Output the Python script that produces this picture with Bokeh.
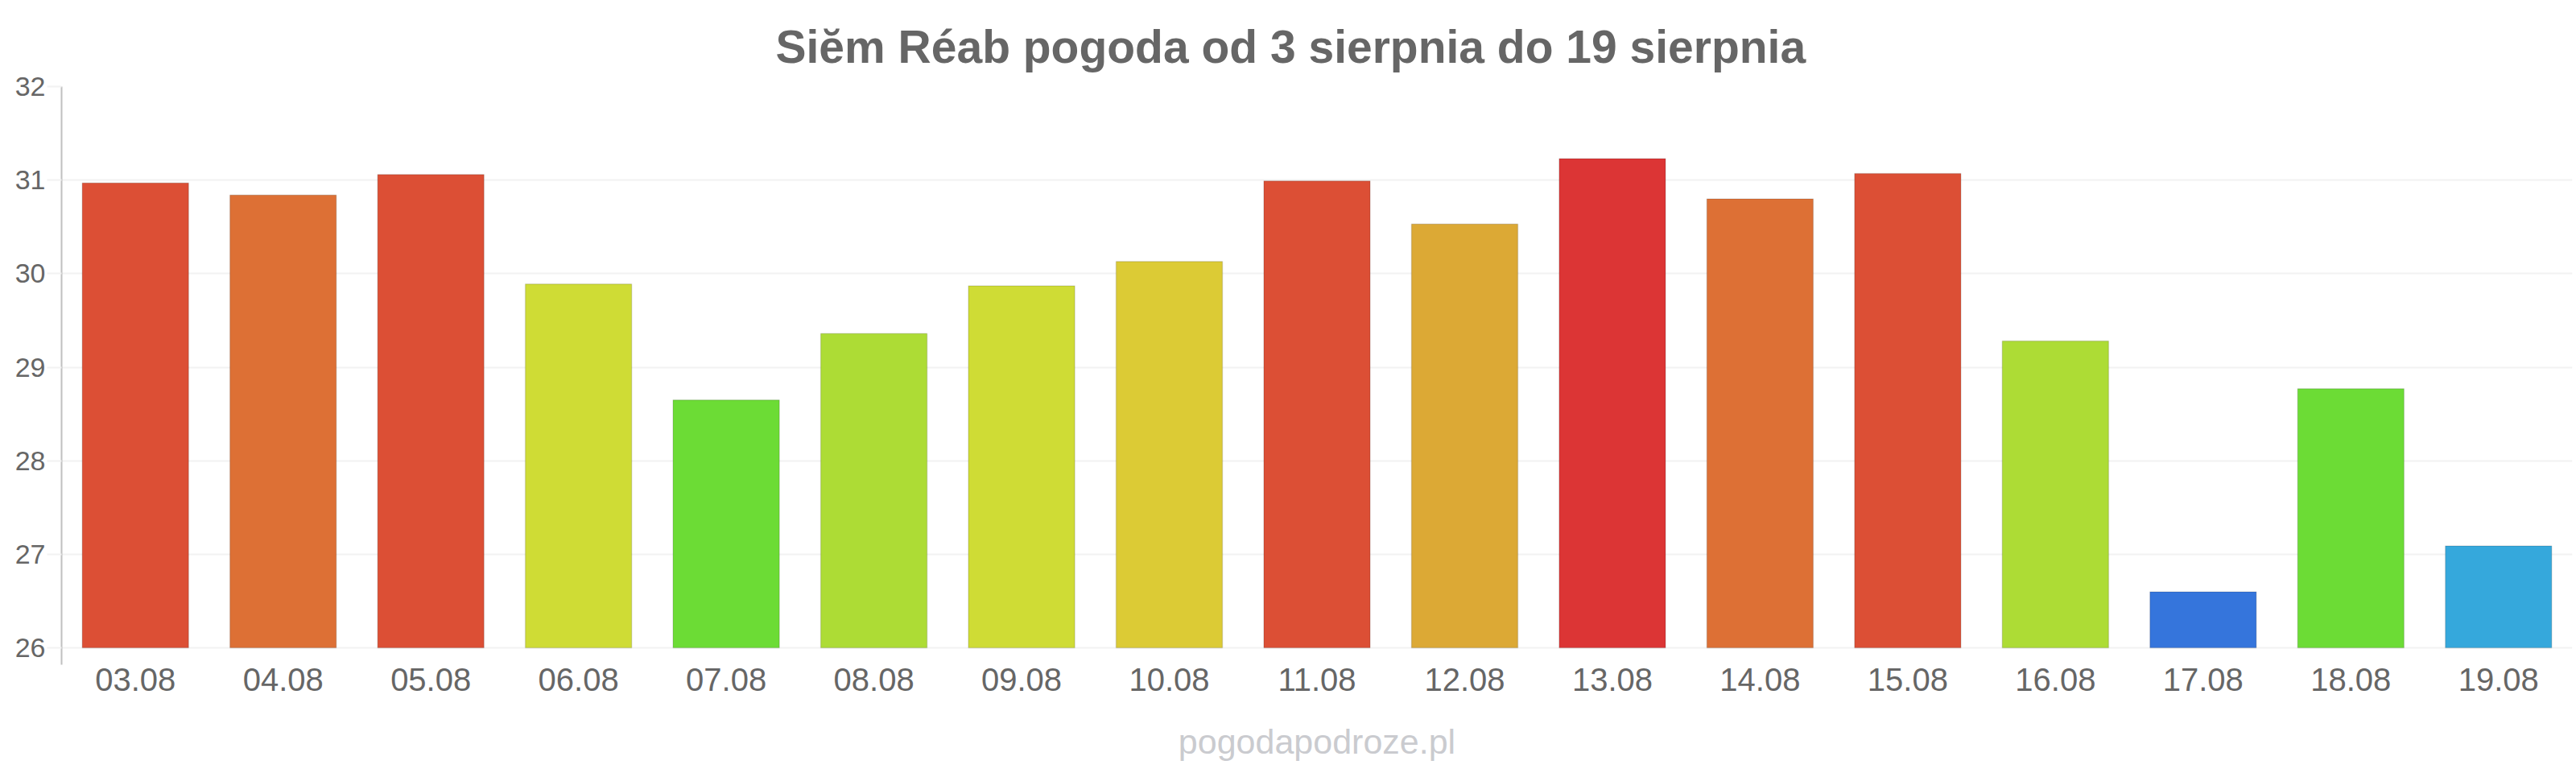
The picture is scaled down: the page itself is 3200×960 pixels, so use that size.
from bokeh.plotting import figure
from bokeh.models import ColumnDataSource, Range1d, SingleIntervalTicker
from bokeh.embed import file_html
from bokeh.resources import INLINE

# ---- data ----
dates = ["03.08", "04.08", "05.08", "06.08", "07.08", "08.08", "09.08", "10.08", "11.08",
         "12.08", "13.08", "14.08", "15.08", "16.08", "17.08", "18.08", "19.08"]
temps = [30.97, 30.84, 31.06, 29.89, 28.65, 29.36, 29.87, 30.13, 30.99,
         30.53, 31.23, 30.80, 31.07, 29.28, 26.60, 28.77, 27.09]
bar_colors = ["#dc4f35", "#dd7035", "#dc4f35", "#cfdc35", "#6cdc35", "#addc35", "#cfdc35",
              "#dccb35", "#dc4f35", "#dca935", "#dc3535", "#dd7035", "#dc4f35", "#addc35",
              "#3575dc", "#6cdc35", "#35a8dc"]
title_text = "Siĕm Réab pogoda od 3 sierpnia do 19 sierpnia"
watermark = "pogodapodroze.pl"
y_base = 26

FONT = "Liberation Sans"
TXT = "#666666"

W, H = 3200, 960
p = figure(width=W, height=H, x_range=dates, y_range=Range1d(25.82, 32),
           output_backend="svg", toolbar_location=None,
           min_border_left=76, min_border_right=5, min_border_top=107, min_border_bottom=135)
p.x_range.range_padding = 0
p.outline_line_color = None
p.background_fill_color = "white"
p.border_fill_color = "white"

src = ColumnDataSource(dict(d=dates, t=temps, c=bar_colors))
p.vbar(x="d", top="t", bottom=y_base, width=0.72, source=src,
       fill_color="c", line_color="#000000", line_alpha=0.12, line_width=1.5)

# axes
p.xgrid.grid_line_color = None
p.ygrid.grid_line_color = "#f2f2f2"
p.ygrid.grid_line_width = 2
p.yaxis.ticker = SingleIntervalTicker(interval=1)

xa = p.xaxis[0]
xa.axis_line_color = None
xa.major_tick_line_color = None
xa.minor_tick_line_color = None
xa.major_tick_out = 0
xa.major_tick_in = 0
xa.major_label_standoff = 4
xa.major_label_text_font = FONT
xa.major_label_text_font_size = "40px"
xa.major_label_text_color = TXT
# site watermark shown centred under the date labels
xa.axis_label = watermark
xa.axis_label_standoff = 36
xa.axis_label_text_font = FONT
xa.axis_label_text_font_size = "43px"
xa.axis_label_text_font_style = "normal"
xa.axis_label_text_color = "#cacbcf"

ya = p.yaxis[0]
ya.axis_line_color = "#c0c0c0"
ya.axis_line_width = 2
ya.major_tick_line_color = "#f2f2f2"
ya.major_tick_line_width = 2
ya.major_tick_out = 18
ya.major_tick_in = 0
ya.minor_tick_line_color = None
ya.major_label_standoff = 2
ya.major_label_text_font = FONT
ya.major_label_text_font_size = "34px"
ya.major_label_text_color = TXT

# title
p.title.text = title_text
p.title.align = "left"
p.title.offset = 887
p.title.standoff = 36
p.title.text_font = FONT
p.title.text_font_size = "57px"
p.title.text_font_style = "bold"
p.title.text_color = TXT

open("out.html", "w").write(file_html(p, INLINE))
